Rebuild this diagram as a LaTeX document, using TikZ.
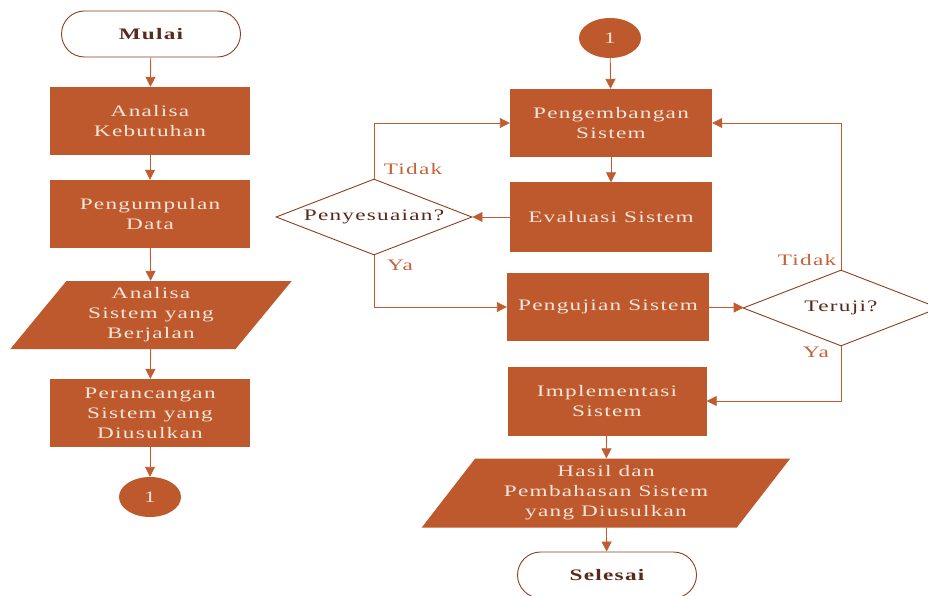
\documentclass[tikz,border=0pt]{standalone}
\usepackage{fontspec}
\setmainfont{Liberation Serif}[FakeStretch=1.45,LetterSpace=8]
\usetikzlibrary{shapes.geometric,arrows.meta}

\definecolor{boxfill}{RGB}{190,89,45}
\definecolor{boxtext}{RGB}{246,230,218}
\definecolor{flow}{RGB}{192,92,50}
\definecolor{edge}{RGB}{140,62,32}
\definecolor{darktext}{RGB}{88,42,26}
\definecolor{labeltext}{RGB}{196,98,58}

\tikzset{
  txt/.style={font=\fontsize{16}{20}\selectfont, align=center},
  procbox/.style={txt, rectangle, fill=boxfill, text=boxtext, inner sep=0pt,
    minimum width=200pt, minimum height=68pt},
  iobox/.style={txt, trapezium, trapezium left angle=52.6, trapezium right angle=127.4,
    trapezium stretches=true, fill=boxfill, text=boxtext, inner sep=0pt,
    minimum width=282pt, minimum height=68pt},
  termbox/.style={txt, rectangle, rounded corners=23pt, draw=edge, line width=0.9pt,
    fill=white, text=darktext, font=\fontsize{16}{20}\selectfont\bfseries,
    inner sep=0pt, minimum width=179pt, minimum height=46pt},
  joint/.style={txt, ellipse, fill=boxfill, text=boxtext, inner sep=0pt,
    minimum width=62pt, minimum height=40pt},
  decision/.style={txt, diamond, shape aspect=2.58, draw=edge, line width=0.9pt,
    fill=white, text=darktext, inner sep=0pt, minimum width=196pt, minimum height=76pt},
  flowline/.style={draw=flow, line width=0.9pt, -{Triangle[length=10pt,width=10pt]}},
  lbl/.style={txt, text=labeltext, inner sep=0pt}
}

\begin{document}
\begin{tikzpicture}[x=1pt, y=-1pt]
  \useasboundingbox (0,0) rectangle (928,596);
  \clip (0,0) rectangle (928,596);

  % left column
  \node[termbox]  (mulai) at (151,34)  {Mulai};
  \node[procbox]  (kebutuhan) at (150,121) {Analisa\\Kebutuhan};
  \node[procbox]  (data) at (150,214) {Pengumpulan\\Data};
  \node[iobox]    (berjalan) at (151,315) {Analisa\\Sistem yang\\Berjalan};
  \node[procbox]  (rancang) at (150,413) {Perancangan\\Sistem yang\\Diusulkan};
  \node[joint]    (con1) at (150,497) {1};

  % right column
  \node[joint]    (con2) at (610,38) {1};
  \node[procbox, minimum width=202pt] (kembang) at (611,123) {Pengembangan\\Sistem};
  \node[procbox, minimum width=202pt, minimum height=69pt] (evaluasi) at (611,217) {Evaluasi Sistem};
  \node[procbox, minimum width=202pt] (uji) at (608,307) {Pengujian Sistem};
  \node[procbox, minimum width=199pt, minimum height=69pt] (implement) at (607,401) {Implementasi\\Sistem};
  \node[iobox, minimum width=370pt, minimum height=69pt] (hasil) at (606,493) {Hasil dan\\Pembahasan Sistem\\yang Diusulkan};
  \node[termbox]  (selesai) at (607,575) {Selesai};

  \node[decision] (sesuai) at (374,217) {Penyesuaian?};
  \node[decision] (teruji) at (841,308) {Teruji?};

  % branch labels
  \node[lbl] (tidak1) at (413,169) {Tidak};
  \node[lbl] (ya1) at (400,265) {Ya};
  \node[lbl] (tidak2) at (807,260) {Tidak};
  \node[lbl] (ya2) at (816,352) {Ya};

  % left flow
  \draw[flowline] (mulai) -- (kebutuhan);
  \draw[flowline] (kebutuhan) -- (data);
  \draw[flowline] (data) -- (berjalan);
  \draw[flowline] (berjalan) -- (rancang);
  \draw[flowline] (rancang) -- (con1);

  % right flow
  \draw[flowline] (con2) -- (kembang);
  \draw[flowline] (kembang) -- (evaluasi);
  \draw[flowline] (evaluasi) -- (sesuai);
  \draw[flowline] (sesuai.north) |- (kembang.west);
  \draw[flowline] (sesuai.south) |- (uji.west);
  \draw[flowline] (uji) -- (teruji);
  \draw[flowline] (teruji.north) |- (kembang.east);
  \draw[flowline] (teruji.south) |- (implement.east);
  \draw[flowline] (implement) -- (hasil);
  \draw[flowline] (hasil) -- (selesai);
\end{tikzpicture}
\end{document}
